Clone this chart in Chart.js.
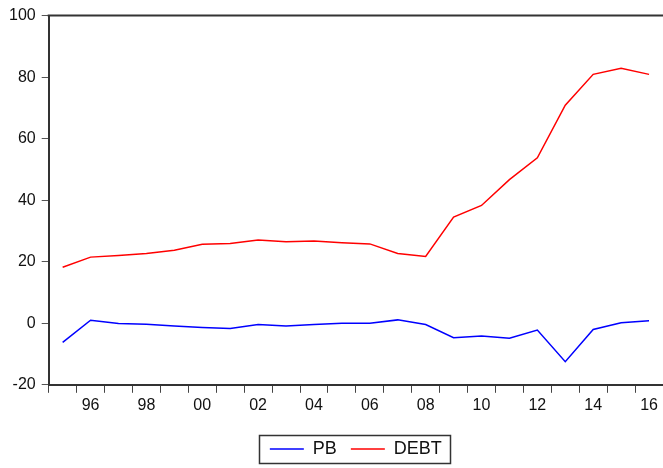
<!DOCTYPE html>
<html lang="en">
<head>
<meta charset="UTF-8">
<title>PB and DEBT</title>
<script src="https://cdn.jsdelivr.net/npm/chart.js@4.4.1/dist/chart.umd.min.js"></script>
<style>
  html, body { margin: 0; padding: 0; background: #fff; }
  #wrap { width: 663px; height: 468px; }
</style>
</head>
<body>
<div id="wrap"><canvas id="chart" width="663" height="468"></canvas></div>
<script>
var years = ['1995','1996','1997','1998','1999','2000','2001','2002','2003','2004','2005',
             '2006','2007','2008','2009','2010','2011','2012','2013','2014','2015','2016'];
var xTickLabels = ['', '96', '', '98', '', '00', '', '02', '', '04', '',
                   '06', '', '08', '', '10', '', '12', '', '14', '', '16'];
var pb = [-6.2, 1.0, -0.1, -0.3, -0.9, -1.4, -1.7, -0.4, -0.9, -0.4, 0.0,
          0.0, 1.1, -0.4, -4.7, -4.1, -4.9, -2.2, -12.5, -2.0, 0.2, 0.8];
var debt = [18.2, 21.5, 22.0, 22.7, 23.7, 25.7, 25.9, 27.1, 26.5, 26.7, 26.2,
            25.8, 22.7, 21.7, 34.5, 38.3, 46.7, 53.8, 70.9, 80.9, 82.9, 80.9];
var yTicks = [-20, 0, 20, 40, 60, 80, 100];

var axisColor = '#333';
var tickFont = { family: "'Liberation Sans', Arial, sans-serif", size: 16 };
var legendFont = { family: "'Liberation Sans', Arial, sans-serif", size: 18 };

// top frame line and the box round the legend
var framePlugin = {
  id: 'frame',
  afterDraw: function (chart) {
    var ctx = chart.ctx;
    var a = chart.chartArea;
    ctx.save();
    ctx.strokeStyle = axisColor;
    ctx.lineWidth = 2;
    ctx.beginPath();
    ctx.moveTo(a.left - 1, a.top);
    ctx.lineTo(a.right, a.top);
    ctx.stroke();

    var boxes = chart.legend.legendHitBoxes;
    if (boxes && boxes.length) {
      var first = boxes[0], last = boxes[boxes.length - 1];
      var x0 = first.left - 11;
      var x1 = last.left + last.width + 8;
      var y0 = first.top - 5;
      var y1 = first.top + first.height + 5;
      ctx.lineWidth = 1.5;
      ctx.strokeRect(Math.round(x0) + 0.5, Math.round(y0) + 0.5, Math.round(x1 - x0), Math.round(y1 - y0));
    }
    ctx.restore();
  }
};

var ctx = document.getElementById('chart').getContext('2d');
new Chart(ctx, {
  type: 'line',
  data: {
    labels: years,
    datasets: [
      { label: 'PB', data: pb, borderColor: '#0000ff', backgroundColor: '#0000ff',
        borderWidth: 1.5, pointRadius: 0, tension: 0, fill: false },
      { label: 'DEBT', data: debt, borderColor: '#ff0000', backgroundColor: '#ff0000',
        borderWidth: 1.5, pointRadius: 0, tension: 0, fill: false }
    ]
  },
  options: {
    responsive: false,
    animation: false,
    layout: { padding: { left: 3, right: 0, top: 13, bottom: 0 } },
    plugins: {
      tooltip: { enabled: false },
      legend: {
        position: 'bottom',
        fullSize: false,
        labels: {
          usePointStyle: true,
          pointStyle: 'line',
          pointStyleWidth: 34,
          boxHeight: 18,
          padding: 14,
          color: '#111',
          font: legendFont
        }
      }
    },
    scales: {
      x: {
        type: 'category',
        offset: true,
        grid: { offset: true, drawOnChartArea: false, drawTicks: true, tickLength: 8, color: '#444', lineWidth: 1 },
        border: { display: true, color: axisColor, width: 2 },
        afterFit: function (axis) { axis.height += 8; },
        ticks: {
          autoSkip: false,
          maxRotation: 0,
          padding: 3,
          color: '#111',
          font: tickFont,
          callback: function (v, i) { return xTickLabels[i]; }
        }
      },
      y: {
        min: -20,
        max: 100,
        afterBuildTicks: function (axis) {
          axis.ticks = yTicks.map(function (v) { return { value: v }; });
        },
        grid: { drawOnChartArea: false, drawTicks: true, tickLength: 7, color: '#555', lineWidth: 1 },
        border: { display: true, color: axisColor, width: 2 },
        ticks: { padding: 6, color: '#111', font: tickFont }
      }
    }
  },
  plugins: [framePlugin]
});
</script>
</body>
</html>
